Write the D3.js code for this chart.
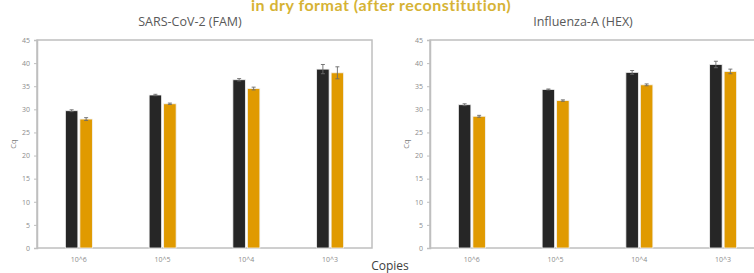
<!DOCTYPE html>
<html>
<head>
<meta charset="utf-8">
<script src="https://cdn.jsdelivr.net/npm/d3@7"></script>
<style>
  body { margin: 0; background: #fff; }
</style>
</head>
<body>
<script>
// data
var copies = ["10^6", "10^5", "10^4", "10^3"];
var yTicks = [0, 5, 10, 15, 20, 25, 30, 35, 40, 45];

var sarsDark = [29.7, 33.1, 36.4, 38.7],
    sarsDarkErr = [0.2, 0.15, 0.25, 1.0],
    sarsGold = [27.9, 31.2, 34.5, 37.9],
    sarsGoldErr = [0.3, 0.15, 0.3, 1.3];

var fluDark = [31.0, 34.3, 38.0, 39.7],
    fluDarkErr = [0.2, 0.1, 0.4, 0.7],
    fluGold = [28.5, 31.9, 35.3, 38.2],
    fluGoldErr = [0.2, 0.15, 0.2, 0.5];

var dark_col = "#262626",
    gold_col = "#e09a00",
    axis_col = "#bfbfbf",
    tick_col = "#8c8c8c";

var W = 754, H = 273;

var svg = d3.select("body")
    .append("svg")
    .attr("width", W)
    .attr("height", H);

// headline, partly cut by the top edge as in the source
svg.append("text")
    .text("in dry format (after reconstitution)")
    .attr("x", 381)
    .attr("y", 11)
    .attr("text-anchor", "middle")
    .attr("font-family", "Lato, sans-serif")
    .attr("font-weight", 700)
    .attr("font-size", "16px")
    .attr("letter-spacing", "0.5px")
    .attr("fill", "#d6b335");

function draw_panel(x0, title, dark, darkErr, gold, goldErr) {
    var top = 40, bottom = 248, width = 335;

    var g = svg.append("g");

    var x = d3.scaleBand()
        .domain(copies)
        .range([x0, x0 + width])
        .padding(0);

    var y = d3.scaleLinear()
        .domain([0, 45])
        .range([bottom, top]);

    var bar_w = 12.5, gap = 2;

    // frame
    g.append("rect")
        .attr("x", x0)
        .attr("y", top)
        .attr("width", width)
        .attr("height", bottom - top)
        .attr("fill", "none")
        .attr("stroke", axis_col)
        .attr("stroke-width", 1.5);

    // y axis
    var yAxis = g.append("g")
        .attr("transform", "translate(" + x0 + ",0)")
        .call(d3.axisLeft(y).tickValues(yTicks).tickSize(3).tickPadding(4));
    yAxis.select(".domain").attr("stroke", axis_col).attr("stroke-width", 1.5);
    yAxis.selectAll(".tick line").attr("stroke", axis_col);
    yAxis.selectAll(".tick text")
        .attr("fill", tick_col)
        .attr("font-family", "'Open Sans', sans-serif")
        .attr("font-size", "7px");

    // x tick labels
    g.selectAll("text.xlab")
        .data(copies)
        .enter().append("text")
        .attr("class", "xlab")
        .text(function(d) { return d; })
        .attr("x", function(d) { return x(d) + x.bandwidth() / 2; })
        .attr("y", 262)
        .attr("text-anchor", "middle")
        .attr("font-family", "'Open Sans', sans-serif")
        .attr("font-size", "7px")
        .attr("fill", tick_col);

    // Cq label
    g.append("text")
        .text("Cq")
        .attr("transform", "translate(" + (x0 - 21) + ",144) rotate(-90)")
        .attr("text-anchor", "middle")
        .attr("font-family", "'Open Sans', sans-serif")
        .attr("font-size", "7.5px")
        .attr("fill", "#7f7f7f");

    // panel title
    g.append("text")
        .text(title)
        .attr("x", x0 + 153)
        .attr("y", 26)
        .attr("text-anchor", "middle")
        .attr("font-family", "'Open Sans', sans-serif")
        .attr("font-size", "12.5px")
        .attr("fill", "#595959");

    var series = [
        { vals: dark, errs: darkErr, col: dark_col, off: -gap / 2 - bar_w },
        { vals: gold, errs: goldErr, col: gold_col, off: gap / 2 }
    ];

    series.forEach(function(s) {
        var rows = copies.map(function(c, i) {
            return { c: c, v: s.vals[i], e: s.errs[i] };
        });

        g.selectAll(null)
            .data(rows)
            .enter().append("rect")
            .attr("x", function(d) { return x(d.c) + x.bandwidth() / 2 + s.off; })
            .attr("y", function(d) { return y(d.v); })
            .attr("width", bar_w)
            .attr("height", function(d) { return y(0) - y(d.v); })
            .attr("fill", s.col)
            .attr("stroke", "#f2f2f2")
            .attr("stroke-width", 0.8);

        // error bars
        var eb = g.selectAll(null)
            .data(rows)
            .enter().append("g")
            .attr("stroke", "#6b6b6b")
            .attr("stroke-width", 0.9);

        eb.append("line")
            .attr("x1", function(d) { return x(d.c) + x.bandwidth() / 2 + s.off + bar_w / 2; })
            .attr("x2", function(d) { return x(d.c) + x.bandwidth() / 2 + s.off + bar_w / 2; })
            .attr("y1", function(d) { return y(d.v - d.e); })
            .attr("y2", function(d) { return y(d.v + d.e); });

        eb.append("line")
            .attr("x1", function(d) { return x(d.c) + x.bandwidth() / 2 + s.off + bar_w / 2 - 2; })
            .attr("x2", function(d) { return x(d.c) + x.bandwidth() / 2 + s.off + bar_w / 2 + 2; })
            .attr("y1", function(d) { return y(d.v + d.e); })
            .attr("y2", function(d) { return y(d.v + d.e); });

        eb.append("line")
            .attr("x1", function(d) { return x(d.c) + x.bandwidth() / 2 + s.off + bar_w / 2 - 2; })
            .attr("x2", function(d) { return x(d.c) + x.bandwidth() / 2 + s.off + bar_w / 2 + 2; })
            .attr("y1", function(d) { return y(d.v - d.e); })
            .attr("y2", function(d) { return y(d.v - d.e); });
    });
}

draw_panel(37, "SARS-CoV-2 (FAM)", sarsDark, sarsDarkErr, sarsGold, sarsGoldErr);
draw_panel(430, "Influenza-A (HEX)", fluDark, fluDarkErr, fluGold, fluGoldErr);

// shared x label
svg.append("text")
    .text("Copies")
    .attr("x", 390)
    .attr("y", 270)
    .attr("text-anchor", "middle")
    .attr("font-family", "'Open Sans', sans-serif")
    .attr("font-size", "12px")
    .attr("fill", "#404040");
</script>
</body>
</html>
